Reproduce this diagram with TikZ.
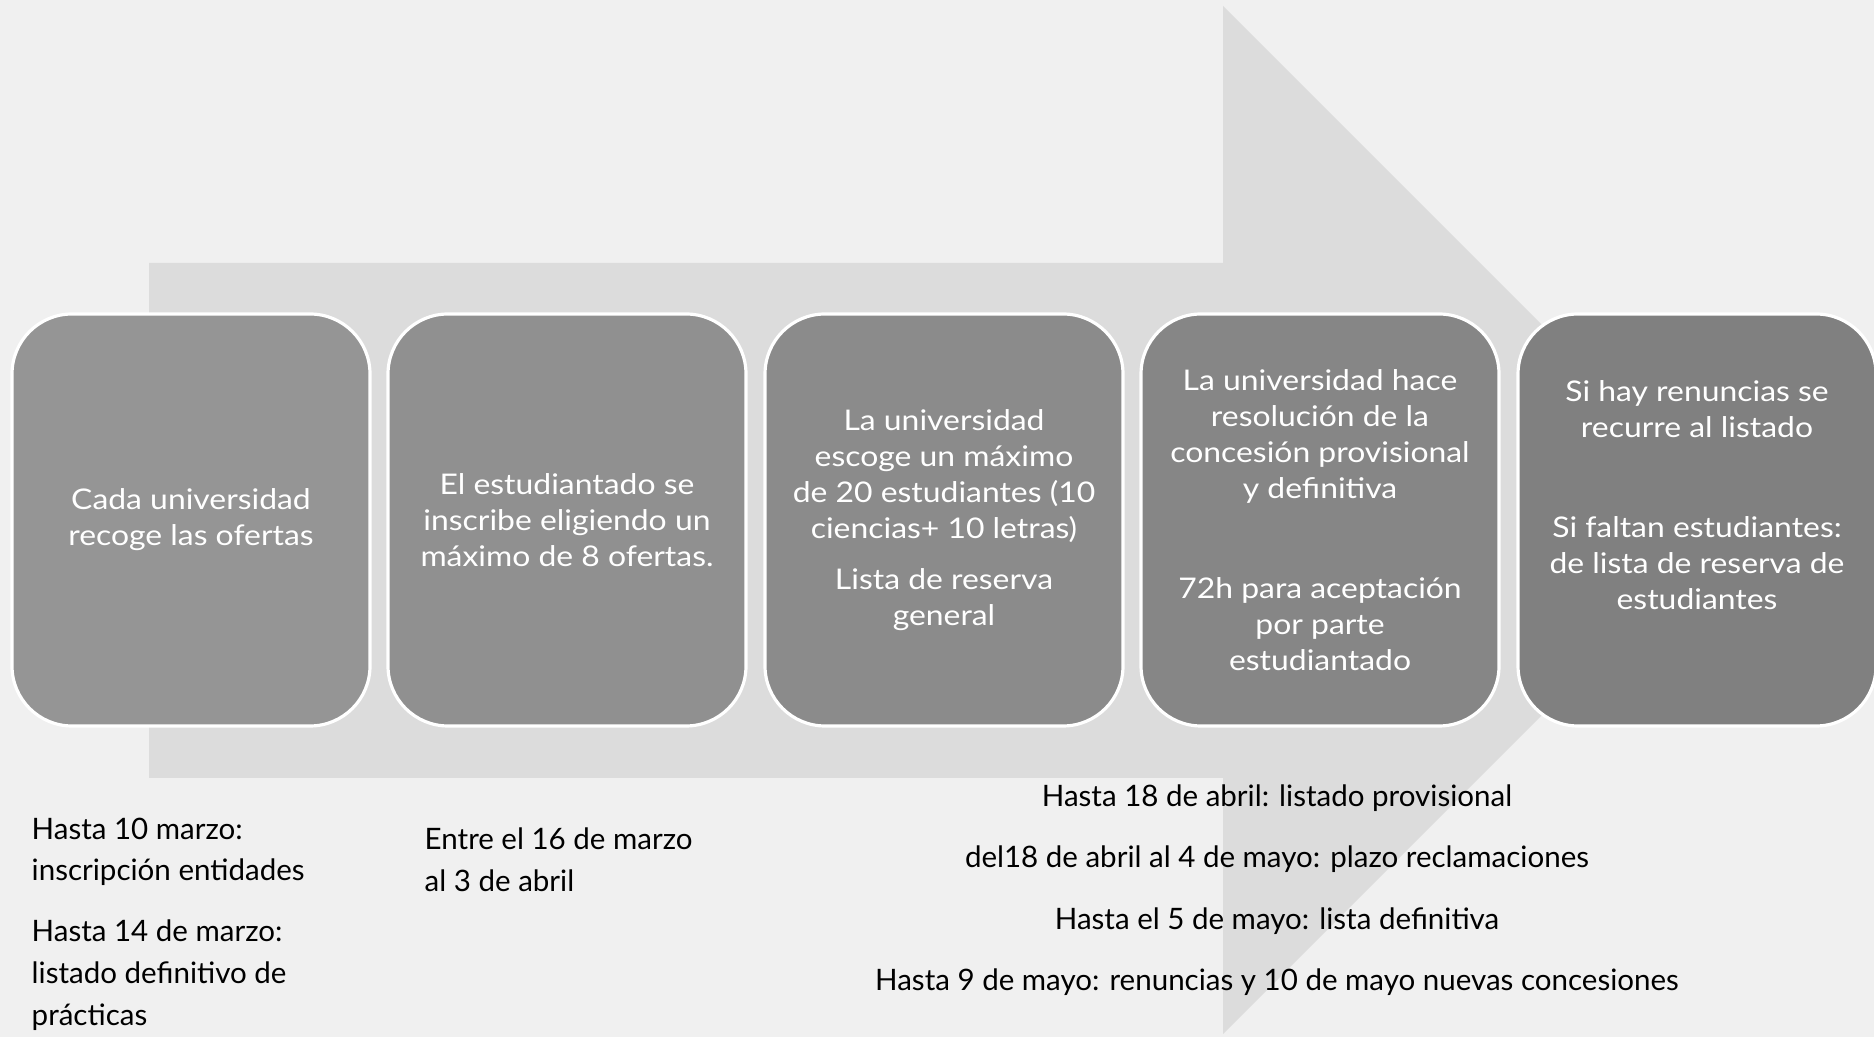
\documentclass[tikz,border=0pt]{standalone}
\usepackage{fontspec}
\setmainfont{Lato}
\newfontfamily\boxfont[FakeStretch=1.12]{Lato}
\definecolor{bggray}{RGB}{240,240,240}
\definecolor{arrowgray}{RGB}{220,220,220}
\definecolor{grayA}{RGB}{149,149,149}
\definecolor{grayB}{RGB}{144,144,144}
\definecolor{grayC}{RGB}{139,139,139}
\definecolor{grayD}{RGB}{134,134,134}
\definecolor{grayE}{RGB}{128,128,128}
\tikzset{
    stepbox/.style={rectangle,
        draw=white,
        line width=0.9pt,
        rounded corners=0.6cm,
        minimum width=3.58cm,
        minimum height=4.12cm,
        text=white,
        align=center,
        font=\boxfont\fontsize{8.1}{10.2}\selectfont},
    datetext/.style={inner sep=0pt,
        text=black,
        font=\fontsize{8.4}{11.9}\selectfont}
}
\begin{document}
\begin{tikzpicture}
        \useasboundingbox (0,0) rectangle (18.74,10.37);
        \fill[bggray] (0,0) rectangle (18.74,10.37);
        % big arrow behind the steps
        \fill[arrowgray] (1.49,2.59) -- (12.23,2.59) -- (12.23,0.03) -- (17.37,5.17)
            -- (12.23,10.31) -- (12.23,7.74) -- (1.49,7.74) -- cycle;

        \node[stepbox, fill=grayA] (A) at (1.91,5.17) {Cada universidad\\recoge las ofertas};
        \node[stepbox, fill=grayB] (B) at (5.67,5.17) {El estudiantado se\\inscribe eligiendo un\\máximo de 8 ofertas.};
        \node[stepbox, fill=grayC] (C) at (9.44,5.17) {La universidad\\escoge un máximo\\de 20 estudiantes (10\\ciencias+ 10 letras)\\[4.4pt]Lista de reserva\\general};
        \node[stepbox, fill=grayD] (D) at (13.20,5.17) {La universidad hace\\resolución de la\\concesión provisional\\y definitiva\\[18.4pt]72h para aceptación\\por parte\\estudiantado};
        \node[stepbox, fill=grayE] (E) at (16.97,5.17) {Si hay renuncias se\\recurre al listado\\[18.4pt]Si faltan estudiantes:\\de lista de reserva de\\estudiantes\\[4pt]\mbox{}};

        % dates under the steps
        \node[datetext, anchor=north west, align=left] (F) at (0.31,2.20) {Hasta 10 marzo:\\inscripción entidades\\[5.4pt]Hasta 14 de marzo:\\listado definitivo de\\prácticas};
        \node[datetext, anchor=north west, align=left] (G) at (4.24,2.10) {Entre el 16 de marzo\\al 3 de abril};
        \node[datetext, anchor=north, align=center, font=\fontsize{8.4}{17.5}\selectfont] (H) at (12.77,2.53) {Hasta 18 de abril: listado provisional\\del18 de abril al 4 de mayo: plazo reclamaciones\\Hasta el 5 de mayo: lista definitiva\\Hasta 9 de mayo: renuncias y 10 de mayo nuevas concesiones};
\end{tikzpicture}
\end{document}
